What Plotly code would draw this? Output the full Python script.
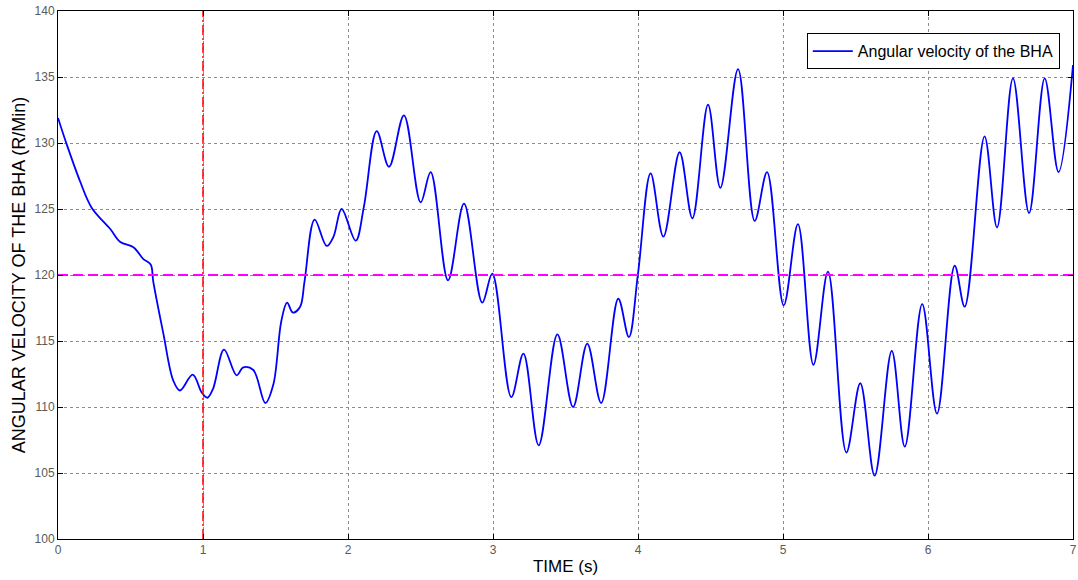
import plotly.graph_objects as go

# Angular velocity of the BHA (R/Min) sampled at key points over time (s)
time_s = [0.0, 0.06, 0.152, 0.232, 0.359, 0.43, 0.52, 0.589, 0.639, 0.657, 0.726, 0.795,
          0.841, 0.929, 0.991, 1.03, 1.07, 1.145, 1.232, 1.278, 1.347, 1.43, 1.485, 1.54,
          1.58, 1.62, 1.67, 1.70, 1.77, 1.853, 1.9, 1.956, 2.053, 2.11, 2.198, 2.283,
          2.386, 2.501, 2.57, 2.69, 2.8, 2.926, 2.995, 3.126, 3.21, 3.315, 3.444, 3.552,
          3.65, 3.746, 3.864, 3.937, 4.0, 4.087, 4.175, 4.287, 4.375, 4.483, 4.568, 4.69,
          4.805, 4.89, 5.005, 5.103, 5.21, 5.31, 5.437, 5.533, 5.632, 5.75, 5.84, 5.96,
          6.062, 6.184, 6.253, 6.39, 6.476, 6.586, 6.697, 6.805, 6.9, 7.0]
omega = [131.9, 129.9, 127.1, 125.1, 123.5, 122.5, 122.1, 121.2, 120.8, 119.5, 115.6, 112.0,
         111.25, 112.45, 111.1, 110.7, 111.4, 114.35, 112.4, 113.0, 112.8, 110.3, 111.7, 116.5,
         117.9, 117.15, 117.6, 119.5, 124.2, 122.2, 122.9, 125.0, 122.6, 125.2, 130.9, 128.2,
         132.1, 125.5, 127.8, 119.6, 125.4, 117.9, 120.1, 110.75, 114.05, 107.1, 115.5, 110.0,
         114.8, 110.3, 118.2, 115.3, 120.1, 127.7, 122.9, 129.3, 124.3, 132.9, 126.6, 135.6,
         124.1, 127.8, 117.7, 123.85, 113.2, 120.25, 106.55, 111.8, 104.8, 114.25, 107.0, 117.8,
         109.5, 120.7, 117.6, 130.5, 123.6, 134.9, 124.7, 134.9, 127.8, 135.9]

reference_speed = 120      # target speed (R/Min)
marker_time = 1.0          # time of the vertical marker (s)
x_range = [0, 7]
y_range = [100, 140]
x_ticks = [0, 1, 2, 3, 4, 5, 6, 7]
y_ticks = [100, 105, 110, 115, 120, 125, 130, 135, 140]

fig = go.Figure()

fig.add_trace(go.Scatter(
    x=time_s, y=omega, mode="lines",
    line=dict(color="#0000ff", width=1.8, shape="spline", smoothing=1.0),
    name="Angular velocity of the BHA",
))

fig.add_trace(go.Scatter(
    x=x_range, y=[reference_speed, reference_speed], mode="lines",
    line=dict(color="#ff00ff", width=2, dash="10px,5px"),
    showlegend=False, hoverinfo="skip",
))

fig.add_trace(go.Scatter(
    x=[marker_time, marker_time], y=y_range, mode="lines",
    line=dict(color="#ff0000", width=1.5, dash="10px,3px,2px,3px"),
    showlegend=False, hoverinfo="skip",
))

axis_common = dict(
    showline=True, linecolor="#000000", linewidth=1, mirror="ticks",
    ticks="inside", ticklen=5, tickcolor="#000000",
    showgrid=True, gridcolor="#8c8c8c", gridwidth=1, griddash="dot",
    zeroline=False, automargin=False,
    tickfont=dict(family="Liberation Sans, Arial, sans-serif", size=12, color="#5a5a5a"),
)

fig.update_layout(
    width=1078, height=580,
    margin=dict(l=58, r=5, t=11, b=41),
    paper_bgcolor="#ffffff", plot_bgcolor="#ffffff",
    font=dict(family="Liberation Sans, Arial, sans-serif", color="#000000"),
    xaxis=dict(range=x_range, tickvals=x_ticks, **axis_common,
               title=dict(text="TIME (s)", font=dict(size=17, color="#000000"), standoff=3)),
    yaxis=dict(range=y_range, tickvals=y_ticks, **axis_common,
               title=dict(text="ANGULAR VELOCITY OF THE BHA (R/Min)",
                          font=dict(size=18, color="#000000"), standoff=4)),
    legend=dict(
        x=0.987, y=0.958, xanchor="right", yanchor="top",
        bgcolor="#ffffff", bordercolor="#000000", borderwidth=1,
        font=dict(size=16, color="#000000"),
        itemwidth=40, tracegroupgap=0,
    ),
    showlegend=True,
)

fig.write_html("out.html")
